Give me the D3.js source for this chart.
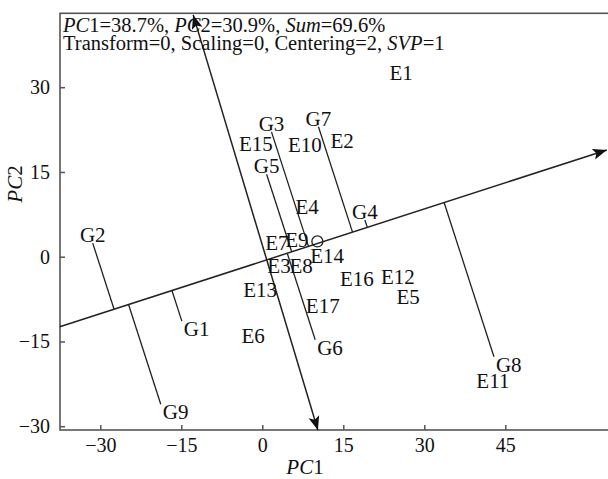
<!DOCTYPE html>
<html lang="en">
<head>
    <meta charset="UTF-8">
    <title>GGE biplot</title>
    <script src="https://d3js.org/d3.v7.min.js"></script>
    <style>
        body {
            margin: 0;
            background: #fff;
        }
        svg text {
            font-family: "Liberation Serif", "Times New Roman", serif;
            fill: #111;
        }
        .tick text {
            font-size: 20px;
        }
        .lbl {
            font-size: 21px;
        }
        .head {
            font-size: 20.5px;
        }
    </style>
</head>
<body>
    <svg id="chart" width="608" height="479"></svg>
    <script>
        // genotype scores (PC1, PC2)
        const genotypes = ["G1", "G2", "G3", "G4", "G5", "G6", "G7", "G8", "G9"];
        const genoPC1 = [-14.9, -31.4, 1.7, 19.0, 0.8, 9.8, 10.4, 42.9, -18.8];
        const genoPC2 = [-11.4, 2.4, 22.1, 6.5, 14.6, -14.7, 23.0, -17.7, -26.1];

        // environment scores (PC1, PC2)
        const environments = ["E1", "E2", "E3", "E4", "E5", "E6", "E7", "E8", "E9",
            "E10", "E11", "E12", "E13", "E14", "E15", "E16", "E17"];
        const envPC1 = [25.7, 14.8, 3.1, 8.3, 27.0, -1.7, 2.7, 7.2, 6.4,
            7.9, 42.7, 25.1, -0.4, 12.0, -1.2, 17.5, 11.2];
        const envPC2 = [32.5, 20.6, -1.6, 8.8, -7.1, -13.9, 2.4, -1.6, 3.0,
            19.8, -22.0, -3.6, -5.9, 0.1, 20.0, -3.8, -8.6];

        // average environment and the two ATC axes (end points)
        const avgEnv = [10.2, 2.7];
        const atcAbscissa = [[-37.5, -12.4], [63.8, 18.9]];
        const atcOrdinate = [[10.3, -30.7], [-12.8, 42.8]];

        const xTicks = [-30, -15, 0, 15, 30, 45];
        const yTicks = [-30, -15, 0, 15, 30];

        const svg = d3.select("#chart");

        const x = d3.scaleLinear().domain([-37.46, 65]).range([60, 613.3]);
        const y = d3.scaleLinear().domain([-30.67, 43.08]).range([430, 13.3]);

        svg.append("defs").append("clipPath").attr("id", "clip")
            .append("rect")
            .attr("x", 60).attr("y", 13.3)
            .attr("width", 560).attr("height", 416.7);

        const marker = svg.select("defs").append("marker")
            .attr("id", "arrow")
            .attr("viewBox", "-14 -6 15 12")
            .attr("refX", 0).attr("refY", 0)
            .attr("markerWidth", 15).attr("markerHeight", 12)
            .attr("markerUnits", "userSpaceOnUse")
            .attr("orient", "auto-start-reverse");
        marker.append("path")
            .attr("d", "M0,0 L-14,-5.5 L-11,0 L-14,5.5 Z")
            .attr("fill", "#111");

        // axes
        svg.append("g")
            .attr("transform", "translate(0,430)")
            .call(d3.axisBottom(x).tickValues(xTicks).tickSize(-5).tickPadding(8))
            .call(g => g.select(".domain").remove());

        svg.append("g")
            .attr("transform", "translate(60,0)")
            .call(d3.axisLeft(y).tickValues(yTicks).tickSize(-5).tickPadding(10))
            .call(g => g.select(".domain").remove());

        svg.selectAll(".tick line").attr("stroke", "#555").attr("stroke-width", 1.5);

        // frame
        svg.append("rect")
            .attr("x", 60).attr("y", 13.3)
            .attr("width", 560).attr("height", 416.7)
            .attr("fill", "none")
            .attr("stroke", "#555")
            .attr("stroke-width", 1.6);

        const plot = svg.append("g").attr("clip-path", "url(#clip)");

        // ATC abscissa
        const a0 = [x(atcAbscissa[0][0]), y(atcAbscissa[0][1])];
        const a1 = [x(atcAbscissa[1][0]), y(atcAbscissa[1][1])];
        const len = Math.hypot(a1[0] - a0[0], a1[1] - a0[1]);
        const u = [(a1[0] - a0[0]) / len, (a1[1] - a0[1]) / len];

        svg.append("line")
            .attr("x1", a0[0]).attr("y1", a0[1])
            .attr("x2", a1[0]).attr("y2", a1[1])
            .attr("stroke", "#222").attr("stroke-width", 1.5)
            .attr("marker-end", "url(#arrow)");

        // ATC ordinate
        svg.append("line")
            .attr("x1", x(atcOrdinate[0][0])).attr("y1", y(atcOrdinate[0][1]))
            .attr("x2", x(atcOrdinate[1][0])).attr("y2", y(atcOrdinate[1][1]))
            .attr("stroke", "#222").attr("stroke-width", 1.5)
            .attr("marker-start", "url(#arrow)")
            .attr("marker-end", "url(#arrow)");

        // genotypes projected onto the abscissa
        const geno = genotypes.map((name, i) => {
            const px = x(genoPC1[i]), py = y(genoPC2[i]);
            const t = (px - a0[0]) * u[0] + (py - a0[1]) * u[1];
            const fx = a0[0] + t * u[0], fy = a0[1] + t * u[1];
            return { name, px, py, fx, fy, above: py < fy };
        });

        plot.selectAll(".proj")
            .data(geno)
            .enter()
            .append("line")
            .attr("class", "proj")
            .attr("x1", d => d.px).attr("y1", d => d.py)
            .attr("x2", d => d.fx).attr("y2", d => d.fy)
            .attr("stroke", "#222").attr("stroke-width", 1.3);

        svg.selectAll(".glbl")
            .data(geno)
            .enter()
            .append("text")
            .attr("class", "lbl")
            .attr("x", d => d.above ? d.px : d.px + 2)
            .attr("y", d => d.above ? d.py - 1 : d.py + 15)
            .attr("text-anchor", d => d.above ? "middle" : "start")
            .text(d => d.name);

        // environments
        svg.selectAll(".elbl")
            .data(environments)
            .enter()
            .append("text")
            .attr("class", "lbl")
            .attr("x", (d, i) => x(envPC1[i]))
            .attr("y", (d, i) => y(envPC2[i]))
            .attr("dy", "0.35em")
            .attr("text-anchor", "middle")
            .text(d => d);

        // average environment
        svg.append("circle")
            .attr("cx", x(avgEnv[0])).attr("cy", y(avgEnv[1]))
            .attr("r", 5.5)
            .attr("fill", "none")
            .attr("stroke", "#222").attr("stroke-width", 1.3);

        // header
        const h1 = svg.append("text").attr("class", "head").attr("x", 63).attr("y", 32);
        h1.append("tspan").attr("font-style", "italic").text("PC");
        h1.append("tspan").text("1=38.7%, ");
        h1.append("tspan").attr("font-style", "italic").text("PC");
        h1.append("tspan").text("2=30.9%, ");
        h1.append("tspan").attr("font-style", "italic").text("Sum");
        h1.append("tspan").text("=69.6%");

        const h2 = svg.append("text").attr("class", "head").attr("x", 63).attr("y", 50);
        h2.append("tspan").text("Transform=0, Scaling=0, Centering=2, ");
        h2.append("tspan").attr("font-style", "italic").text("SVP");
        h2.append("tspan").text("=1");

        // axis titles
        const tx = svg.append("text").attr("class", "lbl")
            .attr("x", 305).attr("y", 474).attr("text-anchor", "middle");
        tx.append("tspan").attr("font-style", "italic").text("PC");
        tx.append("tspan").text("1");

        const ty = svg.append("text").attr("class", "lbl")
            .attr("transform", "translate(22,184) rotate(-90)")
            .attr("text-anchor", "middle");
        ty.append("tspan").attr("font-style", "italic").text("PC");
        ty.append("tspan").text("2");
    </script>
</body>
</html>
